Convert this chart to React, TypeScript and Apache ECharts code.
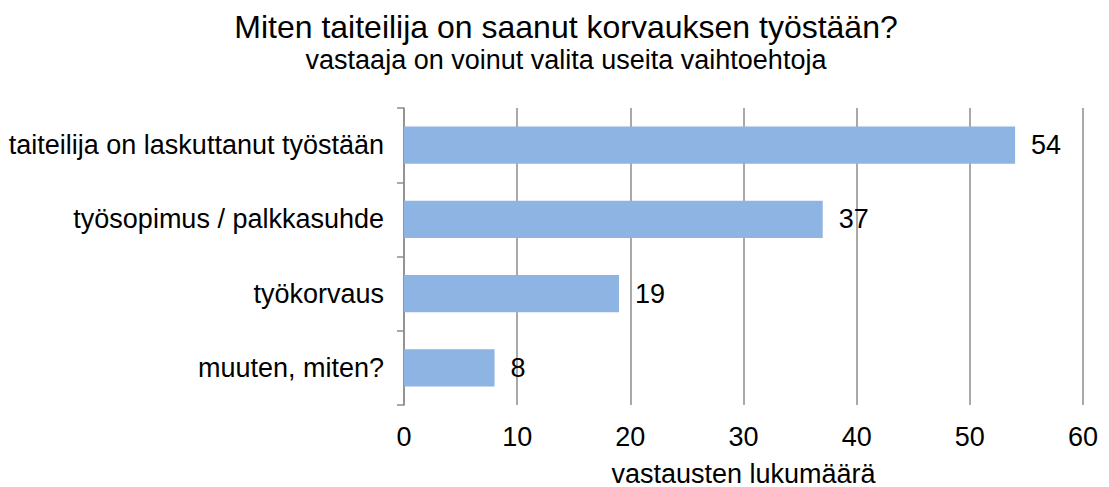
import React, { useEffect, useRef } from "react";
import * as echarts from "echarts";

const categories = [
  "taiteilija on laskuttanut työstään",
  "työsopimus / palkkasuhde",
  "työkorvaus",
  "muuten, miten?",
];
const values = [54, 37, 19, 8];
const titleText = "Miten taiteilija on saanut korvauksen työstään?";
const subtitleText = "vastaaja on voinut valita useita vaihtoehtoja";
const xAxisName = "vastausten lukumäärä";

export default function App() {
  const ref = useRef<HTMLDivElement>(null);
  useEffect(() => {
    if (!ref.current) return;
    const chart = echarts.init(ref.current, null, { renderer: "svg" });
    const font = "Liberation Sans, Arial, sans-serif";
    chart.setOption({
      animation: false,
      backgroundColor: "#ffffff",
      title: {
        text: titleText,
        subtext: subtitleText,
        left: 561,
        textAlign: "center",
        top: 6,
        itemGap: 3,
        textStyle: { fontFamily: font, fontSize: 32, fontWeight: "normal", color: "#000" },
        subtextStyle: { fontFamily: font, fontSize: 27, color: "#000" },
      },
      grid: { left: 404, right: 26, top: 108, bottom: 82, containLabel: false, outerBoundsMode: "none" },
      xAxis: {
        type: "value",
        min: 0,
        max: 60,
        interval: 10,
        name: xAxisName,
        nameLocation: "middle",
        nameGap: 55,
        nameTextStyle: { fontFamily: font, fontSize: 27, color: "#000" },
        axisLine: { show: false },
        axisTick: { show: false },
        axisLabel: { fontFamily: font, fontSize: 27, color: "#000", margin: 18 },
        splitLine: { show: true, lineStyle: { color: "#8c8c8c", width: 1.5 } },
      },
      yAxis: {
        type: "category",
        data: categories,
        inverse: true,
        axisLine: { show: true, lineStyle: { color: "#8c8c8c", width: 1.5 } },
        axisTick: { show: true, length: 7, lineStyle: { color: "#8c8c8c", width: 1.5 } },
        axisLabel: { fontFamily: font, fontSize: 27, color: "#000", margin: 20 },
        splitLine: { show: false },
      },
      series: [
        {
          type: "bar",
          data: values,
          barWidth: "50%",
          itemStyle: { color: "#8eb4e3" },
          label: {
            show: true,
            position: "right",
            distance: 16,
            fontFamily: font,
            fontSize: 27,
            color: "#000",
          },
        },
      ],
    });
    return () => chart.dispose();
  }, []);
  return <div ref={ref} style={{ width: 1109, height: 487, position: "absolute", left: 0, top: 0 }} />;
}
